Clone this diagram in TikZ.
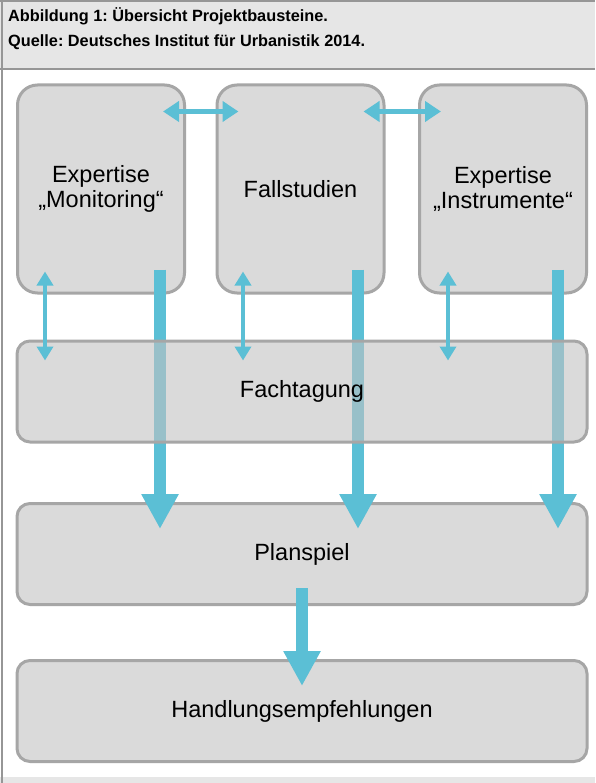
\documentclass[tikz,border=0pt]{standalone}
\usepackage{fontspec}
\setmainfont{Liberation Sans}
\usetikzlibrary{arrows.meta,calc}
\frenchspacing
\definecolor{boxfill}{RGB}{218,218,218}
\definecolor{boxline}{RGB}{166,166,166}
\definecolor{flow}{RGB}{91,191,213}
\definecolor{headfill}{RGB}{230,230,230}
\definecolor{frameline}{RGB}{150,150,150}
\tikzset{
  tallbox/.style={draw=boxline, line width=3pt, fill=boxfill, rounded corners=20pt,
    minimum width=167pt, minimum height=208pt, align=center, inner sep=0pt,
    font=\fontsize{23.5}{25}\selectfont},
  widebox/.style={draw=boxline, line width=3pt, fill=boxfill, rounded corners=13pt,
    minimum width=570pt, minimum height=101pt, align=center, inner sep=0pt,
    font=\fontsize{23.5}{25}\selectfont},
  mainflow/.style={draw=flow, line width=12pt,
    -{Triangle[width=35pt,length=35pt]}},
  thinflow/.style={draw=flow, line width=4pt,
    {Triangle[width=16pt,length=14pt]}-{Triangle[width=16pt,length=14pt]}},
  sideflow/.style={draw=flow, line width=5pt,
    {Triangle[width=20pt,length=16pt]}-{Triangle[width=20pt,length=16pt]}},
  title/.style={anchor=base west, inner sep=0pt, font=\bfseries\fontsize{16.3}{18}\selectfont}
}
\begin{document}
\begin{tikzpicture}[x=1pt,y=-1pt]
  % page frame and caption band
  \useasboundingbox (0,0) rectangle (595,783);
  \fill[white] (0,0) rectangle (595,783);
  \fill[headfill] (0,0) rectangle (595,69);
  \fill[headfill] (0,777) rectangle (595,783);
  \draw[frameline, line width=2pt] (0,69) -- (595,69);
  \draw[frameline, line width=2.5pt] (2,0) -- (2,783);
  \draw[frameline, line width=2pt] (0,1) -- (595,1);
  \node[title] (t1) at (8,22) {Abbildung 1: Übersicht Projektbausteine.};
  \node[title] (t2) at (8,47) {Quelle: Deutsches Institut für Urbanistik 2014.};

  % project modules
  \node[tallbox] (mon)  at (101,189)   {Expertise\\„Monitoring“};
  \node[tallbox] (fall) at (300.5,189) {Fallstudien};
  \node[tallbox] (inst) at (503,189)   {Expertise\\„Instrumente“};
  \node[widebox] (plan) at (302,554)   {Planspiel};
  \node[widebox] (hand) at (302,711)   {Handlungsempfehlungen};

  % results feeding the simulation game
  \draw[mainflow] ([xshift=59pt,yshift=25pt]mon.south)   -- ([xshift=-142pt,yshift=-27pt]plan.north);
  \draw[mainflow] ([xshift=57.5pt,yshift=25pt]fall.south) -- ([xshift=56pt,yshift=-27pt]plan.north);
  \draw[mainflow] ([xshift=55pt,yshift=25pt]inst.south)  -- ([xshift=256pt,yshift=-27pt]plan.north);

  % conference, translucent over the main flows
  \node[widebox, fill=black!24, fill opacity=0.6, text opacity=1] (fach) at (302,391.5) {Fachtagung};

  % exchange between modules and conference
  \draw[thinflow] ([xshift=-56pt,yshift=23pt]mon.south)  -- ([xshift=-257pt,yshift=-21pt]fach.north);
  \draw[thinflow] ([xshift=-57.5pt,yshift=23pt]fall.south) -- ([xshift=-59pt,yshift=-21pt]fach.north);
  \draw[thinflow] ([xshift=-55pt,yshift=23pt]inst.south) -- ([xshift=146pt,yshift=-21pt]fach.north);

  % exchange between neighbouring modules
  \draw[sideflow] ([xshift=-23pt,yshift=-28pt]mon.north east)  -- ([xshift=23pt,yshift=-28pt]fall.north west);
  \draw[sideflow] ([xshift=-22pt,yshift=-28pt]fall.north east) -- ([xshift=23pt,yshift=-28pt]inst.north west);

  % recommendations
  \draw[mainflow] ([yshift=18pt]plan.south) -- ([yshift=-27pt]hand.north);
\end{tikzpicture}
\end{document}
